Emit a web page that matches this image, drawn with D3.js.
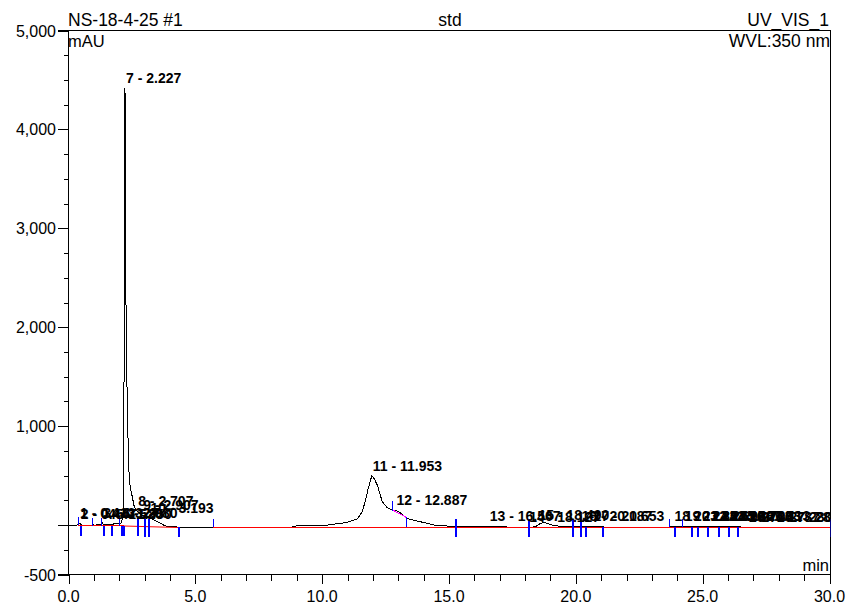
<!DOCTYPE html>
<html><head><meta charset="utf-8">
<script src="https://cdn.jsdelivr.net/npm/d3@7"></script>
<style>body{margin:0;background:#fff}svg{display:block}</style>
</head><body><svg id="c" width="859" height="616"></svg>
<script>
// ---- data ----
const signalTimes  = [0,0.30,0.36,0.42,0.47,0.55,0.90,0.95,1.00,1.29,1.33,1.38,1.50,1.68,1.85,2.00,2.08,2.15,2.19,2.21,2.227,2.25,2.28,2.32,2.36,2.40,2.46,2.52,2.58,2.65,2.90,3.20,3.50,3.75,3.90,4.30,5.70,8.80,8.90,10.06,10.99,11.39,11.58,11.71,11.80,11.953,12.05,12.18,12.37,12.57,12.79,12.887,13.03,13.23,13.42,13.88,14.41,14.94,17.20,17.30,18.30,18.45,18.60,18.75,18.90,19.10,19.30,21.00,21.10,23.70,23.80,26.40,26.50,30.0];
const signalValues = [-5,-5,5,20,10,-5,-5,10,-5,10,25,5,10,5,15,10,20,100,1500,3600,4420,2800,1800,1200,700,450,350,280,200,150,100,70,35,0,-15,-20,-20,-20,-10,-5,27,61,134,252,353,497,470,400,235,175,151,148,134,91,61,33,0,-10,-10,-20,-20,-10,15,25,15,-5,-10,-10,-20,-20,-10,-10,-20,-20];

const peakNumbers = [1,2,3,4,5,6,7,8,9,10,11,12,13,14,15,16,17,18,19,20,21,22,23,24,25,26,27,28];
const peakTimes   = [0.413,0.447,1.327,1.520,1.850,2.080,2.227,2.707,2.907,3.193,11.953,12.887,16.567,18.127,18.490,20.187,20.653,23.853,24.253,24.620,24.960,25.307,25.713,26.053,26.413,26.787,27.280,29.400];

const baselineStartTimes = [0.36,2.17,5.715];
const baselineEndTimes   = [2.17,4.30,30.0];
const baselineStartVals  = [-5,-10,-20];
const baselineEndVals    = [-5,-25,-20];

const delimTimes = [0.355,0.461,0.946,1.289,1.379,1.683,2.010,2.077,2.168,2.720,2.983,3.153,4.304,5.715,15.23,18.13,19.86,20.17,20.38,21.05,23.69,23.88,24.20,24.55,24.79,25.16,25.62,25.99,26.37,30.0];
const delimKinds = ["up","down","up","up","down","down","up","down","down","both","both","both","down","up","both","both","both","both","down","down","up","down","up","down","down","down","down","down","down","both"];

const riderStart = 12.77, riderEnd = 13.31;

const yTickValues = [5000,4000,3000,2000,1000,-500];
const yTickLabels = ["5,000","4,000","3,000","2,000","1,000","-500"];
const xTickValues = [0,5,10,15,20,25,30];
const xTickLabels = ["0.0","5.0","10.0","15.0","20.0","25.0","30.0"];

const headerLeft = "NS-18-4-25 #1", headerMid = "std", headerRight = "UV_VIS_1";
const yUnit = "mAU", wvl = "WVL:350 nm", xUnit = "min";

// ---- chart ----
const svg = d3.select("#c");
const L = 68.5, R = 830.5, T = 30.5, B = 574.5;
const x = d3.scaleLinear().domain([0,30]).range([L, 829.5]);
const y = d3.scaleLinear().domain([-500,5000]).range([B, T]);
const font = "Arial, 'Liberation Sans', sans-serif";
const px = v => Math.round(v) + 0.5;

const sig = signalTimes.map((t,i)=>({t, v:signalValues[i]}));
const bis = d3.bisector(d=>d.t).left;
function sigAt(t){
  let i = bis(sig, t);
  if (i<=0) return sig[0].v;
  if (i>=sig.length) return sig[sig.length-1].v;
  const a=sig[i-1], b=sig[i];
  return a.v + (b.v-a.v)*(t-a.t)/(b.t-a.t);
}
function baseAt(t){
  for (let i=0;i<baselineStartTimes.length;i++){
    if (t>=baselineStartTimes[i]-1e-9 && t<=baselineEndTimes[i]+1e-9){
      const f=(t-baselineStartTimes[i])/(baselineEndTimes[i]-baselineStartTimes[i]);
      return baselineStartVals[i]+(baselineEndVals[i]-baselineStartVals[i])*f;
    }
  }
  return sigAt(t);
}

const frame = svg.append("g").attr("shape-rendering","crispEdges").attr("stroke","#000");
frame.append("line").attr("x1",58).attr("x2",R).attr("y1",T).attr("y2",T);
frame.append("line").attr("x1",R).attr("x2",R).attr("y1",T).attr("y2",B);
frame.append("line").attr("x1",L).attr("x2",L).attr("y1",T).attr("y2",B);
frame.append("line").attr("x1",58).attr("x2",R).attr("y1",B).attr("y2",B);

// y ticks
const yMinor = d3.range(-500, 5001, 250);
frame.append("g").selectAll("line").data(yMinor).join("line")
  .attr("x1", d=> (d%1000===0 || d===-500) ? 58 : 63.5).attr("x2", L)
  .attr("y1", d=>px(y(d))).attr("y2", d=>px(y(d)));
svg.append("g").selectAll("text").data(yTickValues).join("text")
  .attr("x",56).attr("y", d=>Math.round(y(d))+6)
  .attr("text-anchor","end").attr("font-family",font).attr("font-size",16)
  .text((d,i)=>yTickLabels[i]);

// x ticks
const xMinor = d3.range(0,31,1);
frame.append("g").selectAll("line").data(xMinor).join("line")
  .attr("x1", d=>px(x(d))).attr("x2", d=>px(x(d)))
  .attr("y1", B).attr("y2", d=> d%5===0 ? B+9 : B+6);
svg.append("g").selectAll("text").data(xTickValues).join("text")
  .attr("x", d=>x(d)).attr("y", 602)
  .attr("text-anchor","middle").attr("font-family",font).attr("font-size",16)
  .text((d,i)=>xTickLabels[i]);

// header texts
svg.append("text").attr("x",68).attr("y",26).attr("font-family",font).attr("font-size",17.5).text(headerLeft);
svg.append("text").attr("x",450).attr("y",26).attr("text-anchor","middle").attr("font-family",font).attr("font-size",17.5).text(headerMid);
svg.append("text").attr("x",829).attr("y",26).attr("text-anchor","end").attr("font-family",font).attr("font-size",17.5).text(headerRight);
svg.append("text").attr("x",68).attr("y",47).attr("font-family",font).attr("font-size",16.5).text(yUnit);
svg.append("text").attr("x",830).attr("y",47).attr("text-anchor","end").attr("font-family",font).attr("font-size",17.5).text(wvl);
svg.append("text").attr("x",829).attr("y",571).attr("text-anchor","end").attr("font-family",font).attr("font-size",16.5).text(xUnit);

// clip
svg.append("clipPath").attr("id","pc").append("rect").attr("x",L).attr("y",T).attr("width",R-L).attr("height",B-T);
const plot = svg.append("g").attr("clip-path","url(#pc)");

// signal
const line = d3.line().x(d=>x(d.t)).y(d=>y(d.v));
plot.append("path").datum(sig).attr("d",line).attr("fill","none").attr("stroke","#000")
  .attr("stroke-width",1).attr("shape-rendering","crispEdges");

// baselines (red): one row below the flat signal, pixel-aligned
plot.append("g").selectAll("line").data(baselineStartTimes).join("line")
  .attr("x1",(d)=>Math.round(x(d))).attr("x2",(d,i)=>Math.round(x(baselineEndTimes[i])))
  .attr("y1",(d,i)=>baselineStartVals[i]===baselineEndVals[i] ? Math.floor(y(baselineStartVals[i]))+0.5 : y(baselineStartVals[i]))
  .attr("y2",(d,i)=>baselineStartVals[i]===baselineEndVals[i] ? Math.floor(y(baselineEndVals[i]))+0.5 : y(baselineEndVals[i]))
  .attr("stroke","#ff0000").attr("stroke-width",1.1);

// rider skim (magenta)
plot.append("line").attr("x1",x(riderStart)).attr("y1",y(sigAt(riderStart)))
  .attr("x2",x(riderEnd)).attr("y2",y(sigAt(riderEnd)))
  .attr("stroke","#ff00ff").attr("stroke-width",1).attr("shape-rendering","crispEdges");
const dl = plot.append("g").attr("shape-rendering","crispEdges").attr("stroke","#0000ff");
dl.append("line").attr("x1",px(x(riderStart))).attr("x2",px(x(riderStart)))
  .attr("y1",y(sigAt(riderStart))-9).attr("y2",y(sigAt(riderStart))+1);
dl.append("line").attr("x1",px(x(riderEnd))).attr("x2",px(x(riderEnd)))
  .attr("y1",y(sigAt(riderEnd))).attr("y2",y(baseAt(riderEnd)));

// delimiters (blue)
dl.append("g").selectAll("line").data(delimTimes).join("line")
  .attr("x1",d=>px(x(d))).attr("x2",d=>px(x(d)))
  .attr("y1",(d,i)=>{const b=y(baseAt(d)); return delimKinds[i]==="down"? b : b-8;})
  .attr("y2",(d,i)=>{const b=y(baseAt(d)); return delimKinds[i]==="up"? b : b+10;})
  .attr("stroke-width",(d,i)=>delimKinds[i]==="up"?1:2);

// peak labels
svg.append("g").selectAll("text").data(peakTimes).join("text")
  .attr("x",d=>x(d)+1).attr("y",d=>y(sigAt(d))-5)
  .attr("font-family",font).attr("font-size",14).attr("font-weight","bold")
  .attr("clip-path","url(#pc)")
  .text((d,i)=>peakNumbers[i]+" - "+d.toFixed(3));
</script></body></html>
